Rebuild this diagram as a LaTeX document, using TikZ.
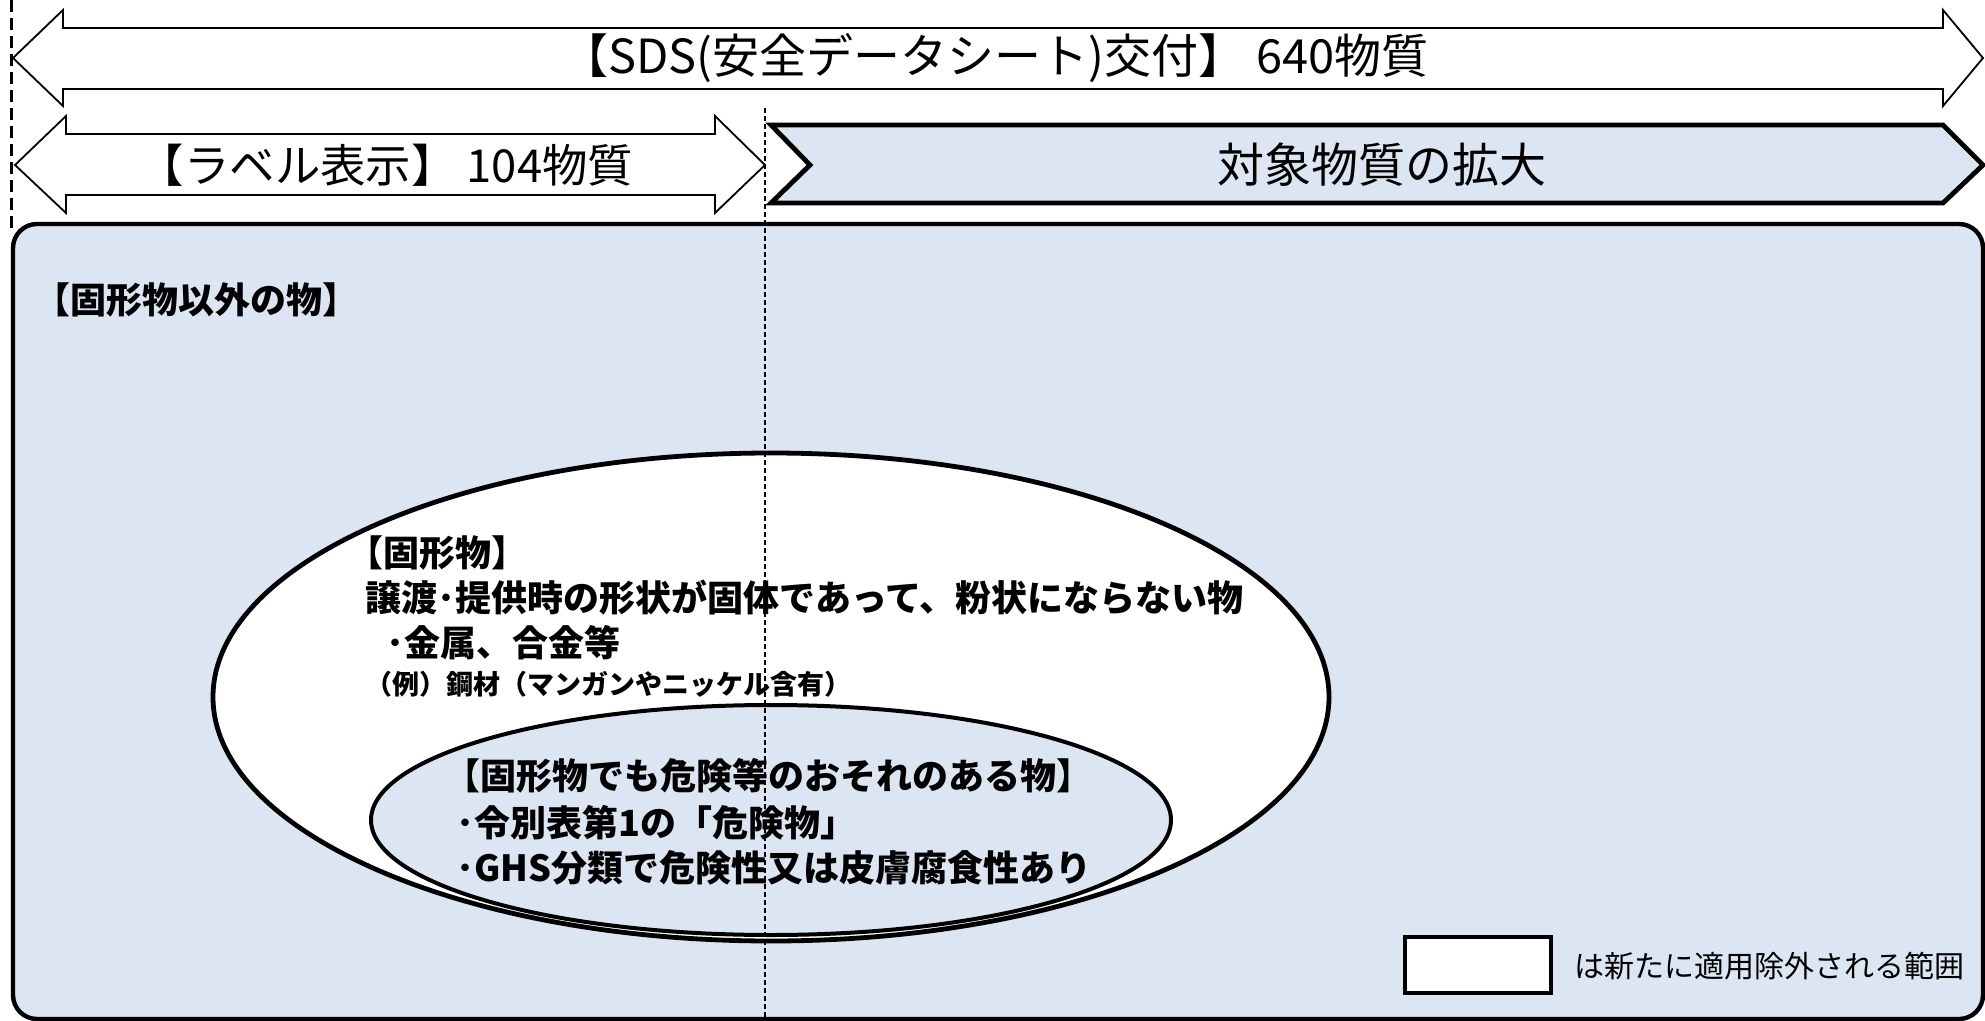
\documentclass[tikz,border=0pt]{standalone}
\usepackage{fontspec}
\setmainfont{Noto Sans CJK JP}
\definecolor{lblue}{HTML}{DCE6F2}
\begin{document}
\begin{tikzpicture}[x=0.5pt,y=-0.5pt,
  arrowbox/.style={draw=black, fill=white, line width=0.9pt, line join=miter},
  chevbox/.style={draw=black, fill=lblue, line width=2.4pt, line join=miter},
  bigtxt/.style={font=\fontsize{23.5}{28}\selectfont, inner sep=0pt},
  boldtxt/.style={font=\fontsize{18}{22}\selectfont\bfseries, anchor=west, inner sep=0pt},
  smalltxt/.style={font=\fontsize{13.5}{16}\selectfont\bfseries, anchor=west, inner sep=0pt},
  legtxt/.style={font=\fontsize{15}{18}\selectfont, anchor=west, inner sep=0pt},
  bigdash/.style={line width=1.5pt, dash pattern=on 6pt off 3pt},
  smalldash/.style={line width=0.6pt, dash pattern=on 2.5pt off 1.5pt}]
\useasboundingbox (0,0) rectangle (1985,1021);
% top double arrow
\draw[arrowbox] (13,58) -- (63,10) -- (63,28) -- (1943,28) -- (1943,10) -- (1983,58)
  -- (1943,106) -- (1943,89) -- (63,89) -- (63,106) -- cycle;
\node[bigtxt] (sds) at (995,58) {【SDS(安全データシート)交付】 640物質};
% label double arrow
\draw[arrowbox] (15,165) -- (66,116) -- (66,134) -- (715,134) -- (715,116) -- (765,165)
  -- (715,213) -- (715,195) -- (66,195) -- (66,213) -- cycle;
\node[bigtxt, font=\fontsize{22.7}{27}\selectfont] (label) at (386,165) {【ラベル表示】 104物質};
% chevron
\draw[chevbox] (771,125) -- (1943,125) -- (1983,165) -- (1943,203) -- (771,203) -- (810,165) -- cycle;
\node[bigtxt] (expand) at (1382,165) {対象物質の拡大};
% main box
\draw[draw=black, fill=lblue, line width=2.2pt, rounded corners=12pt] (13,224) rectangle (1983,1019);
\node[boldtxt] (other) at (34,300) {【固形物以外の物】};
% big ellipse
\draw[draw=black, fill=white, line width=2.4pt] (771,697) ellipse [x radius=558, y radius=244];
\node[boldtxt] (solid) at (347,553) {【固形物】};
\node[boldtxt] (solid1) at (365,598) {譲渡･提供時の形状が固体であって、粉状にならない物};
\node[boldtxt] (solid2) at (386,643) {･金属、合金等};
\node[smalltxt] (solid3) at (365,684) {（例）鋼材（マンガンやニッケル含有）};
% inner ellipse
\draw[draw=black, fill=lblue, line width=2pt] (771,820) ellipse [x radius=400, y radius=115];
\node[boldtxt] (danger) at (444,776) {【固形物でも危険等のおそれのある物】};
\node[boldtxt] (danger1) at (456,823) {･令別表第1の「危険物」};
\node[boldtxt] (danger2) at (456,868) {･GHS分類で危険性又は皮膚腐食性あり};
% legend
\node[draw=black, fill=white, line width=2.2pt, minimum width=73pt, minimum height=28pt, inner sep=0pt] (legbox) at (1478,965) {};
\node[legtxt] (legend) at (1574,966) {は新たに適用除外される範囲};
% dashed lines
\coordinate (l1) at (11,0);
\coordinate (l2) at (11,228);
\coordinate (m1) at (765,108);
\coordinate (m2) at (765,1021);
\draw[bigdash] (l1) -- (l2);
\draw[smalldash] (m1) -- (m2);
\end{tikzpicture}
\end{document}
